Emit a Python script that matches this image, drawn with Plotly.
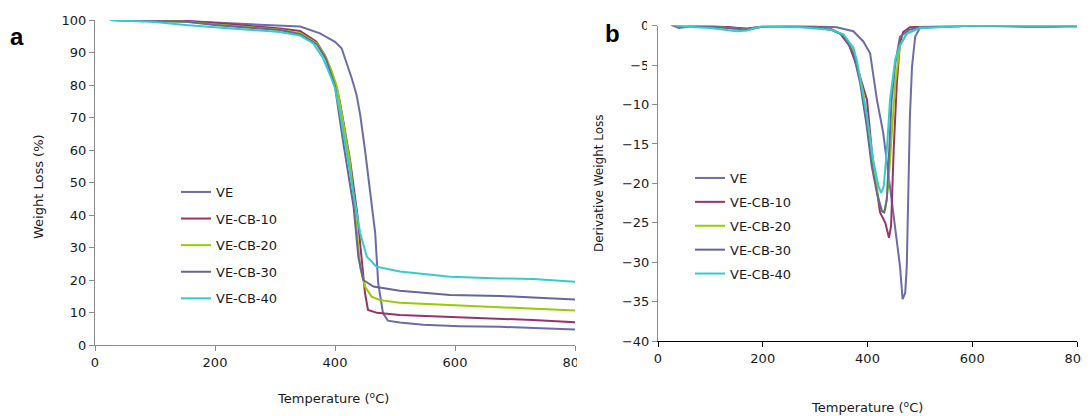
import plotly.graph_objects as go

# the page puts the plot 8 px in from the top-left corner, so the figure is 8 px smaller
OFF = 8
W, H = 1090 - OFF, 416 - OFF

# ---- panel a: TGA, weight (%) vs temperature (C) ----
tga_ve_t = [25, 100, 150, 200, 250, 300, 342, 375, 400, 411, 419, 428, 436, 442, 450, 458, 467, 472, 480, 488, 508, 547, 608, 675, 730, 800]
tga_ve_w = [100, 99.9, 99.7, 99.2, 98.8, 98.3, 98.0, 95.9, 93.3, 91.3, 87.2, 82.0, 76.9, 70.8, 60.0, 48.7, 34.4, 19.0, 9.8, 7.5, 6.9, 6.2, 5.8, 5.6, 5.2, 4.8]

tga_cb10_t = [25, 100, 150, 200, 250, 308, 342, 369, 383, 394, 403, 408, 414, 425, 437, 445, 450, 455, 470, 508, 592, 675, 730, 800]
tga_cb10_w = [100, 99.9, 99.7, 99.1, 98.4, 97.4, 96.6, 93.3, 89.2, 84.1, 79.0, 74.9, 68.7, 57.0, 40.5, 24.0, 16.0, 10.8, 9.9, 9.2, 8.7, 8.2, 7.7, 7.0]

tga_cb20_t = [25, 100, 150, 200, 250, 308, 342, 370, 385, 395, 403, 411, 425, 433, 442, 450, 461, 475, 508, 592, 675, 730, 800]
tga_cb20_w = [100, 99.8, 99.5, 98.6, 97.9, 97.0, 95.9, 92.8, 88.5, 84.0, 79.5, 71.5, 56.0, 42.0, 24.0, 18.0, 14.9, 13.8, 13.0, 12.3, 11.8, 11.3, 10.6]

tga_cb30_t = [25, 100, 150, 200, 250, 308, 342, 370, 385, 400, 414, 431, 439, 447, 464, 508, 592, 675, 730, 800]
tga_cb30_w = [100, 99.8, 99.5, 98.5, 97.8, 96.9, 95.6, 92.5, 88.0, 79.5, 62.0, 42.5, 27.0, 20.0, 18.0, 16.7, 15.4, 15.1, 14.6, 14.0]

tga_cb40_t = [25, 60, 100, 150, 200, 250, 308, 342, 364, 380, 392, 400, 408, 419, 433, 442, 453, 469, 508, 592, 675, 730, 800]
tga_cb40_w = [100, 99.8, 99.4, 98.5, 97.7, 97.1, 96.3, 95.2, 92.8, 88.3, 83.0, 79.0, 71.8, 60.0, 44.6, 34.4, 27.2, 24.1, 22.6, 21.0, 20.5, 20.3, 19.5]

# ---- panel b: DTG, derivative weight loss vs temperature ----
dtg_ve_t = [25, 40, 60, 100, 150, 170, 200, 250, 300, 341, 373, 392, 405, 418, 430, 443, 453, 462, 467, 472, 475, 478, 481, 485, 491, 500, 550, 600, 700, 800]
dtg_ve_d = [0.1, -0.3, -0.1, 0.0, -0.3, -0.4, -0.1, 0.0, -0.05, -0.2, -0.7, -2.0, -3.5, -9.4, -13.6, -20.4, -26.3, -30.5, -34.7, -33.9, -30.5, -22.0, -11.5, -5.2, -1.4, -0.3, -0.1, 0.0, -0.1, -0.1]

dtg_cb10_t = [25, 60, 100, 150, 170, 200, 250, 300, 330, 348, 365, 380, 399, 411, 424, 434, 441, 445, 450, 456, 462, 468, 481, 550, 650, 700, 750, 800]
dtg_cb10_d = [0.1, 0.0, 0.0, -0.3, -0.4, -0.1, 0.0, -0.1, -0.4, -1.0, -2.5, -5.2, -9.4, -17.8, -23.7, -25.0, -26.9, -25.4, -15.7, -7.3, -2.2, -0.8, -0.2, 0.0, 0.0, -0.1, -0.1, 0.0]

dtg_cb20_t = [25, 60, 100, 150, 170, 200, 250, 300, 330, 354, 373, 392, 411, 421, 429, 434, 440, 446, 453, 462, 475, 500, 600, 800]
dtg_cb20_d = [0.1, 0.0, -0.1, -0.4, -0.5, -0.1, -0.1, -0.2, -0.5, -1.2, -3.0, -8.5, -17.1, -22.0, -23.7, -23.3, -20.0, -13.6, -7.3, -2.5, -1.0, -0.2, 0.0, 0.0]

dtg_cb30_t = [25, 60, 100, 150, 170, 200, 250, 300, 330, 354, 373, 386, 398, 408, 418, 427, 432, 437, 440, 446, 453, 462, 480, 500, 600, 800]
dtg_cb30_d = [0.1, 0.0, -0.1, -0.4, -0.5, -0.1, -0.1, -0.2, -0.5, -1.2, -3.5, -7.3, -12.5, -17.8, -21.2, -23.5, -23.7, -22.0, -17.8, -9.4, -4.8, -1.4, -0.5, -0.2, 0.0, 0.0]

dtg_cb40_t = [25, 48, 100, 112, 150, 170, 195, 250, 271, 329, 354, 373, 380, 399, 411, 421, 426, 431, 437, 443, 453, 462, 475, 500, 600, 800]
dtg_cb40_d = [0.2, -0.1, -0.3, -0.4, -0.7, -0.6, -0.1, -0.2, -0.2, -0.5, -1.1, -2.8, -4.5, -11.5, -17.1, -20.4, -21.2, -20.4, -15.7, -9.4, -4.3, -2.5, -1.0, -0.3, 0.0, 0.0]

names = ["VE", "VE-CB-10", "VE-CB-20", "VE-CB-30", "VE-CB-40"]
colors = ["#6C6CA8", "#993366", "#99CC00", "#666699", "#33CCCC"]

tga = [(tga_ve_t, tga_ve_w), (tga_cb10_t, tga_cb10_w), (tga_cb20_t, tga_cb20_w),
       (tga_cb30_t, tga_cb30_w), (tga_cb40_t, tga_cb40_w)]
dtg = [(dtg_ve_t, dtg_ve_d), (dtg_cb10_t, dtg_cb10_d), (dtg_cb20_t, dtg_cb20_d),
       (dtg_cb30_t, dtg_cb30_d), (dtg_cb40_t, dtg_cb40_d)]

FONT = "DejaVu Sans"


# positions below are measured in screen pixels of the 1090x416 picture
def px_x(p):
    return (p - OFF) / W


def px_y(p):
    return (H - (p - OFF)) / H


fig = go.Figure()

for i, (t, w) in enumerate(tga):
    fig.add_trace(go.Scatter(x=t, y=w, mode="lines", name=names[i],
                             line=dict(color=colors[i], width=2),
                             xaxis="x", yaxis="y", legend="legend",
                             legendgroup="a%d" % i))

for i, (t, d) in enumerate(dtg):
    fig.add_trace(go.Scatter(x=t, y=d, mode="lines", name=names[i],
                             line=dict(color=colors[i], width=2),
                             xaxis="x2", yaxis="y2", legend="legend2",
                             legendgroup="b%d" % i))

tickfont = dict(family=FONT, size=13, color="#1a1a1a")
gray = "#8c8c8c"

axis_common = dict(showgrid=False, zeroline=False, ticks="outside", ticklen=5,
                   tickwidth=1, tickfont=tickfont, showline=True, linewidth=1,
                   automargin=False)

fig.update_layout(
    width=W, height=H,
    margin=dict(l=0, r=0, t=0, b=0, pad=0, autoexpand=False),
    paper_bgcolor="white", plot_bgcolor="white",
    font=dict(family=FONT, size=13, color="#1a1a1a"),
    xaxis=dict(domain=[px_x(95), px_x(575)], range=[0, 800], tickvals=[0, 200, 400, 600, 800],
               linecolor=gray, tickcolor=gray, anchor="y", **axis_common),
    yaxis=dict(domain=[px_y(345), px_y(20)], range=[0, 100], dtick=10,
               linecolor=gray, tickcolor=gray, anchor="x", **axis_common),
    xaxis2=dict(domain=[px_x(658), px_x(1077)], range=[0, 800], tickvals=[0, 200, 400, 600, 800],
                linecolor="#000000", tickcolor="#000000", anchor="y2", **axis_common),
    yaxis2=dict(domain=[px_y(341), px_y(25.7)], range=[-40, 0], dtick=5,
                linecolor=gray, tickcolor=gray, anchor="x2", **axis_common),
    legend=dict(x=px_x(176), y=px_y(177), xanchor="left", yanchor="top",
                bgcolor="rgba(0,0,0,0)", font=dict(family=FONT, size=13),
                tracegroupgap=6.7, itemwidth=30),
    legend2=dict(x=px_x(690), y=px_y(163), xanchor="left", yanchor="top",
                 bgcolor="rgba(0,0,0,0)", font=dict(family=FONT, size=13),
                 tracegroupgap=4, itemwidth=30),
    showlegend=True,
)

annotations = [
    dict(text="<b>a</b>", x=px_x(17), y=px_y(37), font=dict(family="Liberation Sans", size=24, color="#000")),
    dict(text="<b>b</b>", x=px_x(612), y=px_y(33), font=dict(family="Liberation Sans", size=24, color="#000")),
    dict(text="Temperature (<sup>o</sup>C)", x=px_x(333), y=px_y(398), font=dict(family=FONT, size=13)),
    dict(text="Temperature (<sup>o</sup>C)", x=px_x(867), y=px_y(407), font=dict(family=FONT, size=13)),
    dict(text="Weight Loss (%)", x=px_x(38), y=px_y(187), textangle=-90, font=dict(family=FONT, size=13)),
    dict(text="Derivative Weight Loss", x=px_x(599), y=px_y(183), textangle=-90, font=dict(family=FONT, size=12)),
]
for a in annotations:
    a.update(xref="paper", yref="paper", showarrow=False, xanchor="center", yanchor="middle")
fig.update_layout(annotations=annotations)

# the source figure is cropped: part of the "800" label and the top right-panel labels are cut off
fig.update_layout(shapes=[
    dict(type="rect", xref="paper", yref="paper", layer="above",
         x0=px_x(577), x1=px_x(600), y0=px_y(375), y1=px_y(352),
         fillcolor="white", line=dict(width=0)),
    dict(type="rect", xref="paper", yref="paper", layer="above",
         x0=px_x(647), x1=px_x(652), y0=px_y(75), y1=px_y(14),
         fillcolor="white", line=dict(width=0)),
])

fig.write_html("out.html")
